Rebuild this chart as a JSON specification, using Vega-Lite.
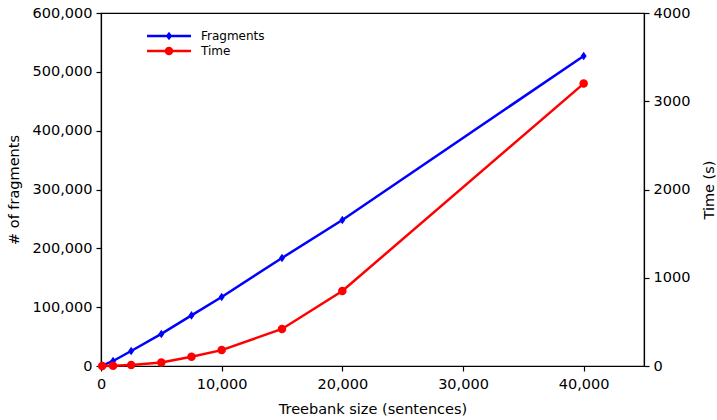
{
  "$schema": "https://vega.github.io/schema/vega-lite/v6.json",
  "width": 543,
  "height": 353,
  "autosize": {"type": "none"},
  "padding": {"left": 101, "top": 13, "right": 73, "bottom": 54},
  "config": {
    "font": "DejaVu Sans",
    "view": {"stroke": "black", "strokeWidth": 1.2},
    "axis": {
      "grid": false,
      "domainColor": "black",
      "domainWidth": 1.2,
      "tickColor": "black",
      "tickSize": 5,
      "tickWidth": 1.2,
      "labelColor": "black",
      "labelFont": "DejaVu Sans",
      "labelFontSize": 14.5,
      "labelPadding": 4,
      "labelFlush": false,
      "titleColor": "black",
      "titleFont": "DejaVu Sans",
      "titleFontSize": 14.5,
      "titleFontWeight": "normal"
    }
  },
  "data": {
    "values": [
      {"size": 100, "series": "Fragments", "value": 500},
      {"size": 1000, "series": "Fragments", "value": 8500},
      {"size": 2500, "series": "Fragments", "value": 25500},
      {"size": 5000, "series": "Fragments", "value": 54500},
      {"size": 7500, "series": "Fragments", "value": 86000},
      {"size": 10000, "series": "Fragments", "value": 117300},
      {"size": 15000, "series": "Fragments", "value": 183600},
      {"size": 20000, "series": "Fragments", "value": 248200},
      {"size": 40000, "series": "Fragments", "value": 527000},
      {"size": 100, "series": "Time", "value": 0},
      {"size": 1000, "series": "Time", "value": 3},
      {"size": 2500, "series": "Time", "value": 10},
      {"size": 5000, "series": "Time", "value": 40},
      {"size": 7500, "series": "Time", "value": 105},
      {"size": 10000, "series": "Time", "value": 180},
      {"size": 15000, "series": "Time", "value": 420},
      {"size": 20000, "series": "Time", "value": 850},
      {"size": 40000, "series": "Time", "value": 3200}
    ]
  },
  "encoding": {
    "x": {
      "field": "size",
      "type": "quantitative",
      "scale": {"domain": [0, 45000], "nice": false, "zero": false},
      "axis": {"values": [0, 10000, 20000, 30000, 40000], "format": ",d", "title": "Treebank size (sentences)", "labelPadding": 6, "titlePadding": 12}
    }
  },
  "layer": [
    {
      "transform": [{"filter": "datum.series === 'Fragments'"}],
      "mark": {
        "type": "line",
        "color": "#0000ff",
        "strokeWidth": 2.5,
        "point": {"filled": true, "color": "#0000ff", "shape": "M0,-1.15L0.8,0L0,1.15L-0.8,0Z", "size": 56, "opacity": 1}
      },
      "encoding": {
        "y": {
          "field": "value",
          "type": "quantitative",
          "scale": {"domain": [0, 600000], "nice": false},
          "axis": {"orient": "left", "format": ",d", "values": [0, 100000, 200000, 300000, 400000, 500000, 600000], "title": "# of fragments", "titlePadding": 11}
        }
      }
    },
    {
      "transform": [{"filter": "datum.series === 'Time'"}],
      "mark": {
        "type": "line",
        "color": "#ff0000",
        "strokeWidth": 2.5,
        "point": {"filled": true, "color": "#ff0000", "shape": "circle", "size": 72, "opacity": 1}
      },
      "encoding": {
        "y": {
          "field": "value",
          "type": "quantitative",
          "scale": {"domain": [0, 4000], "nice": false},
          "axis": {"orient": "right", "format": "d", "values": [0, 1000, 2000, 3000, 4000], "title": "Time (s)", "titleAngle": 270, "titlePadding": 27}
        }
      }
    },
    {
      "mark": {"type": "point", "filled": true, "opacity": 0, "size": 100},
      "encoding": {
        "color": {
          "field": "series",
          "type": "nominal",
          "scale": {"domain": ["Fragments", "Time"], "range": ["#0000ff", "#ff0000"]},
          "legend": {
            "title": null,
            "orient": "none",
            "legendX": 62,
            "legendY": 17,
            "padding": 0,
            "rowPadding": 3,
            "labelFont": "DejaVu Sans",
            "labelFontSize": 12,
            "labelColor": "black",
            "labelOffset": 26,
            "symbolSize": 100,
            "symbolOpacity": 1,
            "symbolStrokeWidth": 0
          }
        },
        "shape": {
          "field": "series",
          "type": "nominal",
          "scale": {
            "domain": ["Fragments", "Time"],
            "range": [
              "M-4.4,-0.25H4.4V0.25H-4.4ZM0,-0.85L0.65,0L0,0.85L-0.65,0Z",
              "M-4.4,-0.25H4.4V0.25H-4.4ZM-0.85,0A0.85,0.85 0 1,1 0.85,0A0.85,0.85 0 1,1 -0.85,0Z"
            ]
          },
          "legend": {
            "title": null,
            "orient": "none",
            "legendX": 62,
            "legendY": 17,
            "padding": 0,
            "rowPadding": 3,
            "labelFont": "DejaVu Sans",
            "labelFontSize": 12,
            "labelColor": "black",
            "labelOffset": 26,
            "symbolSize": 100,
            "symbolOpacity": 1,
            "symbolStrokeWidth": 0
          }
        }
      }
    }
  ],
  "resolve": {"scale": {"y": "independent"}}
}
